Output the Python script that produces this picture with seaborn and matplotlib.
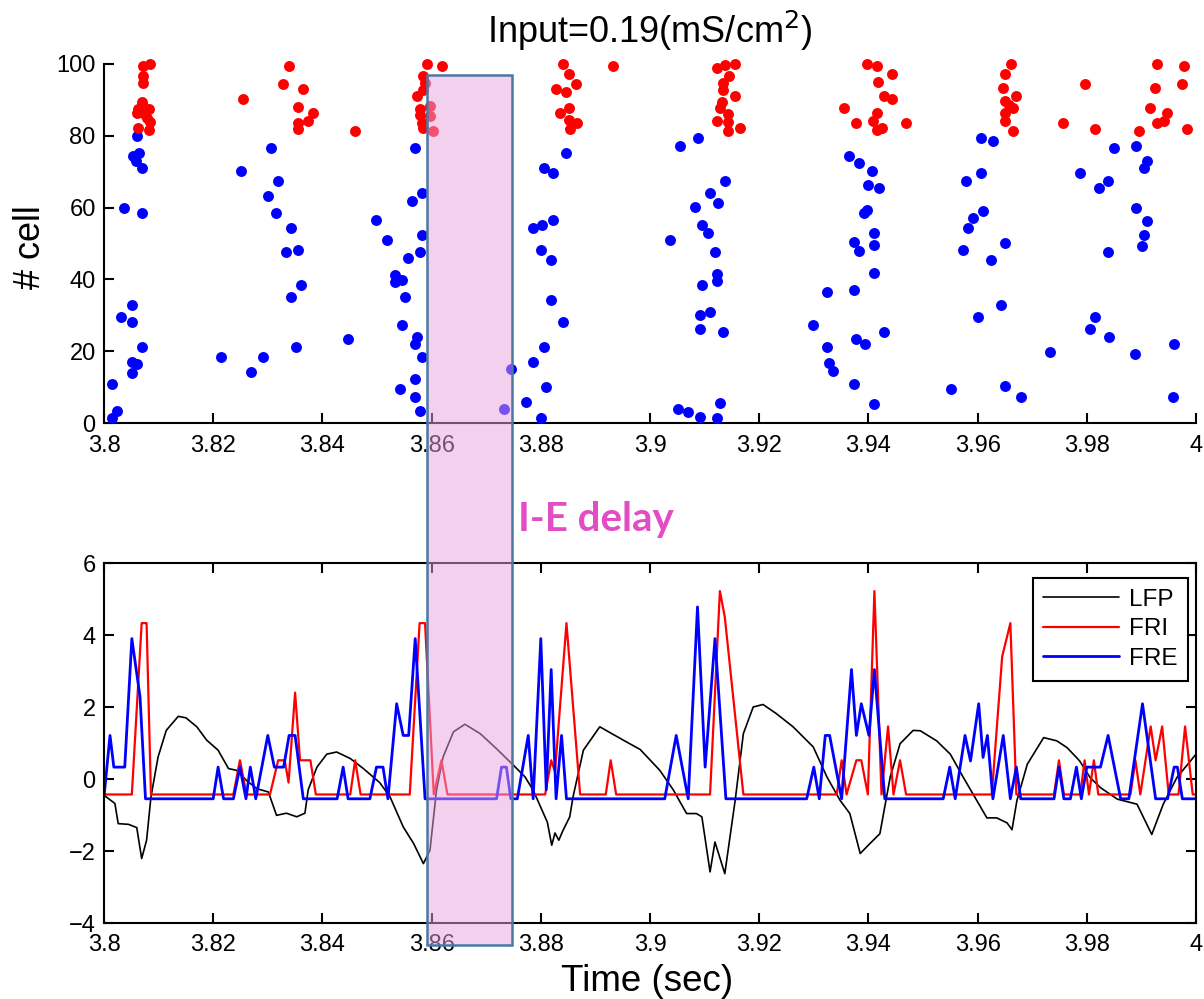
import matplotlib
matplotlib.use("Agg")
import matplotlib.pyplot as plt
import matplotlib.transforms as mtransforms
from matplotlib.patches import Rectangle
import seaborn as sns
import pandas as pd

# ---------------- data ----------------
# Excitatory (blue) spikes: time (s), cell index
e_t = [3.8060, 3.8054, 3.8065, 3.8059, 3.8069, 3.8037, 3.8069, 3.8051, 3.8031, 3.8051, 3.8069, 3.8051, 3.8060, 3.8051, 3.8014, 3.8023, 3.8014,
       3.8305, 3.8251, 3.8319, 3.8301, 3.8315, 3.8342, 3.8333, 3.8356, 3.8360, 3.8342, 3.8352, 3.8215, 3.8291, 3.8269, 3.8446,
       3.8499, 3.8569, 3.8582, 3.8564, 3.8519, 3.8582, 3.8578, 3.8556, 3.8533, 3.8533, 3.8546, 3.8551, 3.8546, 3.8574, 3.8570, 3.8582, 3.8569, 3.8542, 3.8569, 3.8578, 3.8746, 3.8733,
       3.8846, 3.8805, 3.8823, 3.8823, 3.8786, 3.8802, 3.8801, 3.8819, 3.8819, 3.8841, 3.8805, 3.8786, 3.8810, 3.8773, 3.8801,
       3.9087, 3.9055, 3.9138, 3.9110, 3.9124, 3.9083, 3.9095, 3.9106, 3.9037, 3.9119, 3.9123, 3.9123, 3.9096, 3.9092, 3.9110, 3.9092, 3.9133, 3.9051, 3.9070, 3.9092, 3.9123, 3.9128,
       3.9364, 3.9383, 3.9406, 3.9400, 3.9419, 3.9397, 3.9392, 3.9411, 3.9374, 3.9383, 3.9411, 3.9411, 3.9324, 3.9374, 3.9299, 3.9325, 3.9378, 3.9394, 3.9429, 3.9328, 3.9335, 3.9374, 3.9411,
       3.9606, 3.9629, 3.9579, 3.9606, 3.9610, 3.9591, 3.9583, 3.9651, 3.9574, 3.9624, 3.9642, 3.9601, 3.9551, 3.9651, 3.9679,
       3.9850, 3.9891, 3.9910, 3.9905, 3.9788, 3.9838, 3.9823, 3.9891, 3.9910, 3.9905, 3.9902, 3.9838, 3.9815, 3.9806, 3.9841, 3.9733, 3.9888, 3.9960, 3.9957]
e_cell = [80.0, 74.4, 75.3, 73.1, 70.9, 59.9, 58.5, 32.9, 29.6, 28.0, 21.3, 17.1, 16.4, 14.0, 10.8, 3.4, 1.3,
          76.5, 70.3, 67.5, 63.3, 58.5, 54.3, 47.5, 48.1, 38.4, 35.0, 21.3, 18.5, 18.5, 14.3, 23.4,
          56.5, 76.5, 64.0, 61.9, 50.9, 52.4, 47.6, 46.0, 41.2, 39.2, 39.8, 35.0, 27.4, 24.0, 21.9, 18.5, 12.2, 9.5, 7.3, 3.4, 15.0, 3.9,
          75.1, 71.1, 69.6, 56.5, 54.2, 55.2, 48.2, 45.4, 34.3, 28.0, 21.3, 17.0, 10.1, 5.9, 1.3,
          79.3, 77.2, 67.5, 64.0, 61.2, 60.1, 55.2, 53.0, 51.0, 47.6, 41.5, 39.6, 38.4, 30.1, 30.8, 26.1, 25.3, 3.9, 3.1, 1.8, 1.3, 5.5,
          74.4, 72.3, 70.3, 66.3, 65.5, 59.3, 58.6, 53.0, 50.3, 48.0, 49.6, 41.9, 36.4, 37.0, 27.3, 21.3, 23.3, 22.0, 25.3, 16.6, 14.6, 10.9, 5.3,
          79.3, 78.6, 67.5, 69.6, 59.1, 57.0, 54.2, 50.2, 48.2, 45.4, 32.9, 29.4, 9.4, 10.3, 7.3,
          76.5, 77.2, 73.1, 70.9, 69.6, 67.5, 65.4, 59.8, 56.4, 52.4, 49.4, 47.5, 29.4, 26.1, 24.0, 19.9, 19.2, 22.0, 7.3]

# Inhibitory (red) spikes: time (s), cell index
i_t = [3.8072, 3.8084, 3.8072, 3.8072, 3.8069, 3.8063, 3.8083, 3.8060, 3.8072, 3.8078, 3.8084, 3.8083, 3.8063, 3.8069,
       3.8255, 3.8338, 3.8327, 3.8364, 3.8356, 3.8383, 3.8374, 3.8356, 3.8356, 3.8460,
       3.8592, 3.8619, 3.8585, 3.8588, 3.8585, 3.8574, 3.8579, 3.8597, 3.8579, 3.8597, 3.8582, 3.8585, 3.8602,
       3.8841, 3.8933, 3.8851, 3.8864, 3.8828, 3.8846, 3.8851, 3.8836, 3.8851, 3.8866, 3.8853,
       3.9122, 3.9137, 3.9156, 3.9145, 3.9133, 3.9133, 3.9156, 3.9131, 3.9128, 3.9142, 3.9123, 3.9142, 3.9165, 3.9142,
       3.9397, 3.9415, 3.9443, 3.9418, 3.9429, 3.9443, 3.9355, 3.9415, 3.9409, 3.9378, 3.9469, 3.9415, 3.9424,
       3.9661, 3.9651, 3.9647, 3.9670, 3.9650, 3.9665, 3.9657, 3.9650, 3.9650, 3.9665,
       3.9756, 3.9797, 3.9815, 3.9896, 3.9928, 3.9978, 3.9924, 3.9974, 3.9915, 3.9946, 3.9928, 3.9941, 3.9983]
i_cell = [99.5, 100.0, 96.7, 94.6, 89.5, 87.6, 87.4, 86.3, 86.3, 84.9, 83.9, 81.6, 82.1, 88.5,
          90.3, 99.4, 94.4, 93.0, 88.1, 86.3, 84.1, 83.7, 81.9, 81.3,
          100.0, 99.4, 96.7, 94.6, 92.8, 91.2, 87.4, 88.3, 85.8, 85.5, 83.7, 82.1, 81.4,
          100.0, 99.4, 97.2, 94.4, 93.0, 92.3, 87.7, 86.3, 84.4, 83.5, 81.8,
          98.8, 99.7, 100.0, 96.7, 94.6, 92.8, 91.1, 89.5, 87.7, 86.1, 84.2, 83.9, 82.1, 81.4,
          100.0, 99.4, 97.2, 95.0, 91.1, 90.2, 87.7, 86.4, 84.2, 83.7, 83.7, 81.6, 82.1,
          100.0, 97.2, 93.2, 91.1, 89.7, 87.7, 88.6, 86.3, 84.1, 81.4,
          83.5, 94.4, 81.9, 81.3, 100.0, 99.4, 93.2, 94.4, 87.7, 86.3, 83.5, 84.1, 81.9]

# LFP trace vertices
lfp_t = [3.8000, 3.8020, 3.8026, 3.8045, 3.8060, 3.8069, 3.8078, 3.8086, 3.8099, 3.8114, 3.8136, 3.8150, 3.8170, 3.8188,
         3.8209, 3.8228, 3.8243, 3.8261, 3.8280, 3.8301, 3.8316, 3.8334, 3.8353, 3.8368, 3.8374, 3.8390, 3.8408, 3.8426,
         3.8451, 3.8475, 3.8505, 3.8524, 3.8548, 3.8567, 3.8585, 3.8597, 3.8609, 3.8621, 3.8640, 3.8661, 3.8689, 3.8719,
         3.8750, 3.8771, 3.8786, 3.8805, 3.8812, 3.8820, 3.8826, 3.8833, 3.8840, 3.8853, 3.8859, 3.8878, 3.8908, 3.8951,
         3.8982, 3.9018, 3.9043, 3.9067, 3.9085, 3.9095, 3.9110, 3.9119, 3.9137, 3.9156, 3.9171, 3.9189, 3.9207, 3.9231,
         3.9262, 3.9299, 3.9324, 3.9348, 3.9366, 3.9385, 3.9403, 3.9421, 3.9440, 3.9458, 3.9482, 3.9495, 3.9525, 3.9550,
         3.9574, 3.9599, 3.9617, 3.9635, 3.9654, 3.9663, 3.9672, 3.9691, 3.9721, 3.9745, 3.9764, 3.9787, 3.9806, 3.9825,
         3.9856, 3.9892, 3.9919, 3.9940, 3.9965, 4.0000]
lfp_v = [-0.45, -0.68, -1.24, -1.26, -1.35, -2.21, -1.70, -0.50, 0.61, 1.35, 1.74, 1.70, 1.45, 1.08,
         0.80, 0.29, 0.24, -0.04, -0.27, -0.36, -1.01, -0.95, -1.05, -0.95, -0.30, 0.33, 0.69, 0.75,
         0.57, 0.29, -0.10, -0.50, -1.33, -1.79, -2.35, -1.98, -0.31, 0.61, 1.31, 1.52, 1.26, 0.84,
         0.38, 0.06, -0.31, -0.96, -1.20, -1.84, -1.50, -1.70, -1.45, -1.05, -0.50, 0.80, 1.45, 1.08,
         0.82, 0.24, -0.31, -0.96, -0.96, -1.05, -2.58, -1.75, -2.63, -0.59, 1.26, 2.00, 2.07, 1.82,
         1.45, 0.89, 0.06, -0.59, -0.96, -2.07, -1.79, -1.52, 0.06, 0.98, 1.35, 1.34, 1.06, 0.69,
         0.04, -0.61, -1.08, -1.08, -1.22, -1.41, -0.60, 0.41, 1.15, 1.06, 0.87, 0.50, 0.04, -0.24,
         -0.56, -0.70, -1.54, -0.70, 0.04, 0.69]

# Inhibitory firing rate (FRI) vertices
fri_t = [3.8000, 3.8051, 3.8069, 3.8078, 3.8086,
         3.8237, 3.8249, 3.8261, 3.8304, 3.8319, 3.8331, 3.8338, 3.8350, 3.8359, 3.8378, 3.8388, 3.8451, 3.8460, 3.8470,
         3.8560, 3.8578, 3.8588, 3.8604, 3.8618, 3.8629,
         3.8808, 3.8819, 3.8826, 3.8847, 3.8872, 3.8919, 3.8928, 3.8938,
         3.9110, 3.9128, 3.9137, 3.9171,
         3.9342, 3.9351, 3.9360, 3.9378, 3.9387, 3.9399, 3.9411, 3.9424, 3.9436, 3.9446, 3.9458, 3.9469,
         3.9626, 3.9645, 3.9660, 3.9671,
         3.9740, 3.9749, 3.9758, 3.9788, 3.9796, 3.9804, 3.9813, 3.9821,
         3.9880, 3.9889, 3.9898, 3.9917, 3.9926, 3.9938, 3.9950, 3.9968, 3.9980, 3.9994, 4.0000]
fri_v = [-0.43, -0.43, 4.33, 4.33, -0.43,
         -0.43, 0.52, -0.43, -0.43, 0.52, 0.52, -0.10, 2.40, 0.52, 0.52, -0.43, -0.43, 0.52, -0.43,
         -0.43, 4.33, 4.33, -0.43, 0.52, -0.43,
         -0.43, 0.52, 0.20, 4.33, -0.43, -0.43, 0.52, -0.43,
         -0.43, 5.22, 4.50, -0.43,
         -0.43, 0.52, -0.43, 0.52, 0.52, -0.43, 5.22, -0.43, 1.46, -0.43, 0.52, -0.43,
         -0.43, 3.40, 4.33, -0.43,
         -0.43, 0.52, -0.43, -0.43, 0.52, -0.43, 0.52, -0.43,
         -0.43, 0.52, -0.43, 1.46, 0.52, 1.46, -0.43, -0.43, 1.46, -0.43, -0.43]

# Excitatory firing rate (FRE) vertices
fre_t = [3.8000, 3.8011, 3.8018, 3.8038, 3.8051, 3.8066, 3.8076,
         3.8200, 3.8209, 3.8219, 3.8237, 3.8249, 3.8260, 3.8268, 3.8278, 3.8300, 3.8312, 3.8329, 3.8339, 3.8350, 3.8365,
         3.8427, 3.8438, 3.8447, 3.8487, 3.8499, 3.8511, 3.8520, 3.8536, 3.8548, 3.8558, 3.8570, 3.8588,
         3.8719, 3.8728, 3.8737, 3.8745, 3.8757, 3.8777, 3.8786, 3.8800, 3.8810, 3.8819, 3.8828, 3.8838, 3.8847,
         3.9027, 3.9048, 3.9070, 3.9087, 3.9101, 3.9119, 3.9139,
         3.9287, 3.9300, 3.9310, 3.9321, 3.9329, 3.9351, 3.9369, 3.9378, 3.9387, 3.9401, 3.9411, 3.9430,
         3.9537, 3.9549, 3.9559, 3.9577, 3.9587, 3.9602, 3.9610, 3.9618, 3.9628, 3.9647, 3.9660, 3.9671, 3.9679,
         3.9740, 3.9749, 3.9758, 3.9770, 3.9781, 3.9790, 3.9800, 3.9825, 3.9839, 3.9862, 3.9877, 3.9902, 3.9926,
         3.9948, 3.9960, 3.9966, 3.9975, 4.0000]
fre_v = [-0.50, 1.21, 0.33, 0.33, 3.90, 2.28, -0.55,
         -0.55, 0.33, -0.55, -0.55, 0.33, -0.55, 0.33, -0.55, 1.21, 0.33, 0.33, 1.21, 1.21, -0.55,
         -0.55, 0.33, -0.55, -0.55, 0.33, 0.33, -0.55, 2.09, 1.21, 1.21, 3.90, -0.55,
         -0.55, 0.33, 0.33, -0.55, -0.55, 1.21, -0.55, 3.90, -0.30, 3.04, -0.55, 1.21, -0.55,
         -0.55, 1.21, -0.55, 4.78, 0.33, 3.90, -0.55,
         -0.55, 0.33, -0.55, 1.21, 1.21, -0.55, 3.04, 1.21, 2.09, 1.21, 3.04, -0.55,
         -0.55, 0.33, -0.55, 1.21, 0.50, 2.09, 0.60, 1.21, -0.55, 1.21, -0.55, 0.33, -0.55,
         -0.55, 0.33, -0.55, -0.55, 0.33, -0.55, 0.33, 0.33, 1.21, -0.55, -0.55, 2.09, -0.55,
         -0.55, 0.33, 0.33, -0.55, -0.55]

x_ticks = [3.8, 3.82, 3.84, 3.86, 3.88, 3.9, 3.92, 3.94, 3.96, 3.98, 4.0]
x_labels = ["3.8", "3.82", "3.84", "3.86", "3.88", "3.9", "3.92", "3.94", "3.96", "3.98", "4"]
raster_yticks = [0, 20, 40, 60, 80, 100]
trace_yticks = [-4, -2, 0, 2, 4, 6]
delay_window = (3.8591, 3.8747)

# ---------------- style ----------------
sns.set_style("ticks")
plt.rcParams["font.family"] = ["Liberation Sans", "DejaVu Sans"]
plt.rcParams["axes.linewidth"] = 1.5
for key in ["text.color", "axes.labelcolor", "xtick.color", "ytick.color", "axes.edgecolor"]:
    plt.rcParams[key] = "black"

W, H = 1204, 999
fig = plt.figure(figsize=(W / 100, H / 100), dpi=100)
ax1 = fig.add_axes([104 / W, 1 - 423 / H, 1092 / W, 359 / H])
ax2 = fig.add_axes([104 / W, 1 - 923 / H, 1092 / W, 360 / H])

# ---------------- raster ----------------
df_e = pd.DataFrame({"t": e_t, "cell": e_cell})
df_i = pd.DataFrame({"t": i_t, "cell": i_cell})
sns.scatterplot(data=df_e, x="t", y="cell", ax=ax1, color="#0000FF", s=62, linewidth=0, clip_on=False, zorder=3)
sns.scatterplot(data=df_i, x="t", y="cell", ax=ax1, color="#FF0000", s=62, linewidth=0, clip_on=False, zorder=3)
ax1.set_xlim(3.8, 4.0)
ax1.set_ylim(0, 100)
ax1.set_xticks(x_ticks)
ax1.set_xticklabels(x_labels)
ax1.set_yticks(raster_yticks)
ax1.set_xlabel("")
ax1.set_ylabel("")
for s in ["top", "right"]:
    ax1.spines[s].set_visible(False)
ax1.tick_params(direction="in", length=7, width=1.5, labelsize=17, colors="black")
ax1.tick_params(axis="x", pad=9)
ax1.tick_params(axis="y", pad=6)

# ---------------- traces ----------------
df_lfp = pd.DataFrame({"t": lfp_t, "v": lfp_v})
df_fri = pd.DataFrame({"t": fri_t, "v": fri_v})
df_fre = pd.DataFrame({"t": fre_t, "v": fre_v})
sns.lineplot(data=df_lfp, x="t", y="v", ax=ax2, color="black", lw=1.2, sort=False, estimator=None, label="LFP")
sns.lineplot(data=df_fri, x="t", y="v", ax=ax2, color="#FF0000", lw=1.6, sort=False, estimator=None, label="FRI")
sns.lineplot(data=df_fre, x="t", y="v", ax=ax2, color="#0000FF", lw=2.0, sort=False, estimator=None, label="FRE")
ax2.set_xlim(3.8, 4.0)
ax2.set_ylim(-4, 6)
ax2.set_xticks(x_ticks)
ax2.set_xticklabels(x_labels)
ax2.set_yticks(trace_yticks)
ax2.set_xlabel("")
ax2.set_ylabel("")
ax2.tick_params(direction="in", length=7, width=1.5, labelsize=17,
                top=True, right=True, colors="black")
ax2.tick_params(axis="x", pad=8)
ax2.tick_params(axis="y", pad=6)
leg = ax2.legend(loc="upper right", bbox_to_anchor=(1 - 8 / 1092, 1 - 15 / 360), borderaxespad=0,
                 fontsize=17.5, frameon=True, fancybox=False, handlelength=3.1, handletextpad=0.4,
                 borderpad=0.45, labelspacing=0.3)
leg.get_frame().set_edgecolor("black")
leg.get_frame().set_linewidth(1.5)
leg.get_frame().set_alpha(1)
for txt in leg.get_texts():
    txt.set_color("black")

# ---------------- annotations ----------------
fig.text(650 / W, 1 - 43 / H, "Input=0.19(mS/cm$^2$)", ha="center", va="baseline", fontsize=26, color="black")
fig.text(30 / W, 1 - 247 / H, "# cell", rotation=90, ha="center", va="center", fontsize=26, color="black")
fig.text(647 / W, 1 - 991 / H, "Time (sec)", ha="center", va="baseline", fontsize=26.5, color="black")

trans = mtransforms.blended_transform_factory(ax2.transData, fig.transFigure)
rect = Rectangle((delay_window[0], 1 - 945 / H), delay_window[1] - delay_window[0], (945 - 75) / H,
                 transform=trans, facecolor=(0.92, 0.64, 0.88, 0.5), edgecolor="#4A78A2", linewidth=1.8,
                 zorder=10, clip_on=False)
fig.add_artist(rect)
fig.text(518 / W, 1 - 531 / H, "I-E delay", ha="left", va="baseline", fontsize=29,
         fontweight="bold", color="#E24CC4", family=["Lato", "DejaVu Sans"])

fig.savefig("out.png", dpi=100)
